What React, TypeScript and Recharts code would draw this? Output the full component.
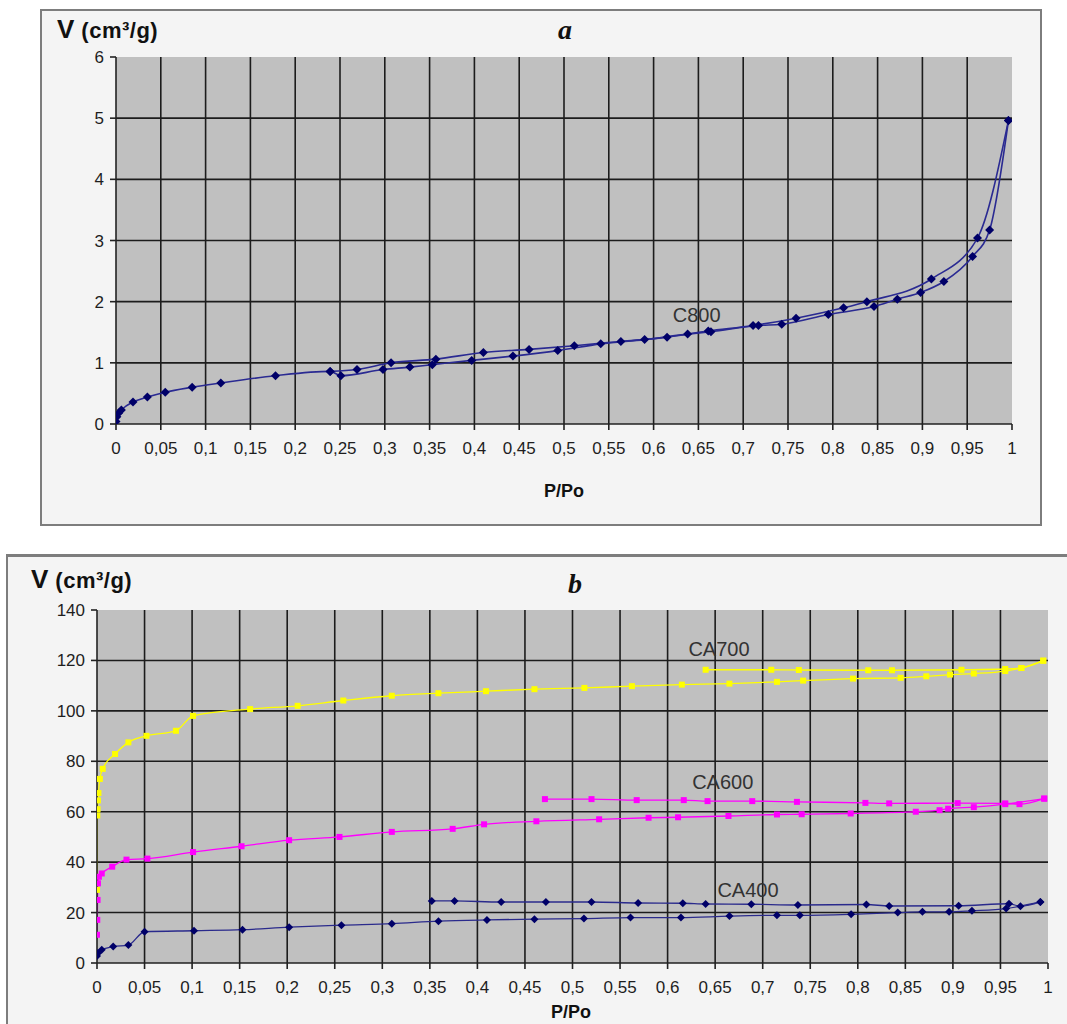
import React from 'react';
import { LineChart, Line, XAxis, YAxis, CartesianGrid, ReferenceLine, ReferenceDot } from 'recharts';

// ---------- tick labels / grid values ----------
const xTicks = [0, 0.05, 0.1, 0.15, 0.2, 0.25, 0.3, 0.35, 0.4, 0.45, 0.5, 0.55, 0.6, 0.65, 0.7, 0.75, 0.8, 0.85, 0.9, 0.95, 1];
const xGrid = [0.05, 0.1, 0.15, 0.2, 0.25, 0.3, 0.35, 0.4, 0.45, 0.5, 0.55, 0.6, 0.65, 0.7, 0.75, 0.8, 0.85, 0.9, 0.95];
const yTicksA = [0, 1, 2, 3, 4, 5, 6];
const yGridA = [1, 2, 3, 4, 5];
const yTicksB = [0, 20, 40, 60, 80, 100, 120, 140];
const yGridB = [20, 40, 60, 80, 100, 120];

// ---------- chart a : C800 ----------
const c800Ads = [
  { x: 0, y: 0.04 }, { x: 0.001, y: 0.12 }, { x: 0.003, y: 0.18 }, { x: 0.006, y: 0.23 },
  { x: 0.019, y: 0.36 }, { x: 0.035, y: 0.44 }, { x: 0.055, y: 0.52 }, { x: 0.085, y: 0.6 },
  { x: 0.117, y: 0.67 }, { x: 0.178, y: 0.79 }, { x: 0.239, y: 0.86 }, { x: 0.251, y: 0.79 },
  { x: 0.298, y: 0.89 }, { x: 0.328, y: 0.93 }, { x: 0.353, y: 0.97 }, { x: 0.397, y: 1.04 },
  { x: 0.443, y: 1.11 }, { x: 0.493, y: 1.2 }, { x: 0.541, y: 1.31 }, { x: 0.59, y: 1.38 },
  { x: 0.638, y: 1.47 }, { x: 0.664, y: 1.51 }, { x: 0.717, y: 1.61 }, { x: 0.743, y: 1.63 },
  { x: 0.795, y: 1.79 }, { x: 0.846, y: 1.92 }, { x: 0.872, y: 2.04 }, { x: 0.898, y: 2.15 },
  { x: 0.924, y: 2.33 }, { x: 0.956, y: 2.74 }, { x: 0.975, y: 3.17 }, { x: 0.996, y: 4.96 },
];
const c800Des = [
  { x: 0.239, y: 0.86 }, { x: 0.269, y: 0.89 }, { x: 0.307, y: 1.0 }, { x: 0.357, y: 1.06 },
  { x: 0.41, y: 1.17 }, { x: 0.461, y: 1.22 }, { x: 0.5115, y: 1.28 }, { x: 0.5635, y: 1.35 },
  { x: 0.615, y: 1.42 }, { x: 0.661, y: 1.52 }, { x: 0.711, y: 1.61 }, { x: 0.759, y: 1.73 },
  { x: 0.812, y: 1.9 }, { x: 0.838, y: 2.0 }, { x: 0.91, y: 2.37 }, { x: 0.9615, y: 3.04 },
  { x: 0.996, y: 4.96 },
];

// ---------- chart b : CA700 / CA600 / CA400 ----------
const ca700Ads = [
  { x: 0, y: 29 }, { x: 0.0003, y: 58.5 }, { x: 0.0006, y: 61 }, { x: 0.001, y: 64.5 },
  { x: 0.0015, y: 67.4 }, { x: 0.003, y: 73 }, { x: 0.006, y: 77 }, { x: 0.019, y: 82.9 },
  { x: 0.033, y: 87.5 }, { x: 0.052, y: 90.1 }, { x: 0.083, y: 92.1 }, { x: 0.101, y: 98 },
  { x: 0.161, y: 100.7 }, { x: 0.211, y: 102 }, { x: 0.259, y: 104.1 }, { x: 0.31, y: 106 },
  { x: 0.359, y: 107 }, { x: 0.409, y: 107.8 }, { x: 0.46, y: 108.6 }, { x: 0.5125, y: 109.1 },
  { x: 0.5625, y: 109.8 }, { x: 0.615, y: 110.4 }, { x: 0.665, y: 110.8 }, { x: 0.715, y: 111.5 },
  { x: 0.7425, y: 112 }, { x: 0.795, y: 112.8 }, { x: 0.845, y: 113.1 }, { x: 0.872, y: 113.7 },
  { x: 0.897, y: 114.4 }, { x: 0.922, y: 114.8 }, { x: 0.955, y: 115.8 }, { x: 0.972, y: 117 },
  { x: 0.995, y: 119.9 },
];
const ca700Des = [
  { x: 0.64, y: 116.3 }, { x: 0.709, y: 116.3 }, { x: 0.738, y: 116.2 }, { x: 0.811, y: 116.1 },
  { x: 0.836, y: 116.1 }, { x: 0.909, y: 116.3 }, { x: 0.955, y: 116.6 }, { x: 0.972, y: 117 },
  { x: 0.995, y: 119.9 },
];
const ca600Ads = [
  { x: 0, y: 11.2 }, { x: 0.0003, y: 17.1 }, { x: 0.0006, y: 25 }, { x: 0.001, y: 31.6 },
  { x: 0.002, y: 34.2 }, { x: 0.005, y: 35.5 }, { x: 0.016, y: 38.2 }, { x: 0.031, y: 41 },
  { x: 0.053, y: 41.4 }, { x: 0.101, y: 44 }, { x: 0.152, y: 46.3 }, { x: 0.202, y: 48.7 },
  { x: 0.255, y: 50 }, { x: 0.31, y: 52 }, { x: 0.374, y: 53.2 }, { x: 0.407, y: 55 },
  { x: 0.462, y: 56.2 }, { x: 0.528, y: 57 }, { x: 0.58, y: 57.6 }, { x: 0.611, y: 57.8 },
  { x: 0.664, y: 58.3 }, { x: 0.715, y: 58.9 }, { x: 0.741, y: 59 }, { x: 0.7925, y: 59.3 },
  { x: 0.861, y: 60 }, { x: 0.886, y: 60.6 }, { x: 0.895, y: 61.2 }, { x: 0.922, y: 61.8 },
  { x: 0.955, y: 63 }, { x: 0.996, y: 65.2 },
];
const ca600Des = [
  { x: 0.471, y: 65 }, { x: 0.52, y: 65 }, { x: 0.5675, y: 64.6 }, { x: 0.617, y: 64.6 },
  { x: 0.642, y: 64.2 }, { x: 0.689, y: 64.2 }, { x: 0.736, y: 63.9 }, { x: 0.808, y: 63.5 },
  { x: 0.833, y: 63.3 }, { x: 0.905, y: 63.4 }, { x: 0.955, y: 63.3 }, { x: 0.97, y: 63 },
  { x: 0.996, y: 65.2 },
];
const ca400Ads = [
  { x: 0, y: 2.8 }, { x: 0.001, y: 3.9 }, { x: 0.005, y: 5.3 }, { x: 0.017, y: 6.5 },
  { x: 0.033, y: 7.1 }, { x: 0.05, y: 12.4 }, { x: 0.102, y: 12.8 }, { x: 0.153, y: 13.2 },
  { x: 0.202, y: 14.2 }, { x: 0.257, y: 15 }, { x: 0.31, y: 15.6 }, { x: 0.359, y: 16.6 },
  { x: 0.41, y: 17.1 }, { x: 0.46, y: 17.4 }, { x: 0.512, y: 17.6 }, { x: 0.561, y: 18 },
  { x: 0.614, y: 18 }, { x: 0.665, y: 18.6 }, { x: 0.715, y: 18.9 }, { x: 0.739, y: 18.9 },
  { x: 0.793, y: 19.3 }, { x: 0.842, y: 20 }, { x: 0.868, y: 20.3 }, { x: 0.896, y: 20.3 },
  { x: 0.92, y: 20.7 }, { x: 0.956, y: 21.6 }, { x: 0.992, y: 24.2 },
];
const ca400Des = [
  { x: 0.352, y: 24.6 }, { x: 0.376, y: 24.6 }, { x: 0.425, y: 24.2 }, { x: 0.472, y: 24.2 },
  { x: 0.52, y: 24.2 }, { x: 0.569, y: 23.8 }, { x: 0.616, y: 23.7 }, { x: 0.64, y: 23.4 },
  { x: 0.688, y: 23.3 }, { x: 0.737, y: 23 }, { x: 0.809, y: 23.2 }, { x: 0.833, y: 22.6 },
  { x: 0.906, y: 22.7 }, { x: 0.959, y: 23.5 }, { x: 0.971, y: 22.5 }, { x: 0.992, y: 24.2 },
];

// series label anchors (data coordinates)
const labelsA = [{ name: 'C800', x: 0.648, y: 1.79 }];
const labelsB = [
  { name: 'CA700', x: 0.654, y: 124.6 },
  { name: 'CA600', x: 0.658, y: 71.7 },
  { name: 'CA400', x: 0.6845, y: 29 },
];

const FONT = 'Arial, "Liberation Sans", Helvetica, sans-serif';
const GRID = '#1c1c1c';
const fmt = (v: number) => String(v).replace('.', ',');

const diamond = (size: number, fill: string) => (props: any) => {
  const { cx, cy, index } = props;
  if (cx == null || cy == null) return <g key={`d${index}`} />;
  const s = size / 2;
  return <path key={`d${index}`} d={`M${cx},${cy - s}L${cx + s},${cy}L${cx},${cy + s}L${cx - s},${cy}Z`} fill={fill} />;
};
const square = (size: number, fill: string) => (props: any) => {
  const { cx, cy, index } = props;
  if (cx == null || cy == null) return <g key={`s${index}`} />;
  const s = size / 2;
  return <rect key={`s${index}`} x={cx - s} y={cy - s} width={size} height={size} fill={fill} />;
};

const tickStyle = { fontSize: 17, fill: '#1e1e1e', fontFamily: FONT };
const axisStroke = { stroke: '#222', strokeWidth: 1.6 };

const AxisTitleV = ({ left, top }: { left: number; top: number }) => (
  <div style={{ position: 'absolute', left, top, fontFamily: FONT, fontWeight: 'bold', color: '#111', whiteSpace: 'nowrap', lineHeight: 1 }}>
    <span style={{ fontSize: 26 }}>V</span>
    <span style={{ fontSize: 22, marginLeft: 7, letterSpacing: 0.5 }}>(cm³/g)</span>
  </div>
);

const Title = ({ text, left, top }: { text: string; left: number; top: number }) => (
  <div style={{ position: 'absolute', left, top, width: 40, textAlign: 'center', fontFamily: '"Liberation Serif", "Times New Roman", serif', fontStyle: 'italic', fontWeight: 'bold', fontSize: 28, lineHeight: 1, color: '#111' }}>{text}</div>
);

const XTitle = ({ left, top }: { left: number; top: number }) => (
  <div style={{ position: 'absolute', left, top, width: 80, textAlign: 'center', fontFamily: FONT, fontWeight: 'bold', fontSize: 18, lineHeight: 1, color: '#111' }}>P/Po</div>
);

export default function App() {
  return (
    <div style={{ position: 'absolute', left: 0, top: 0, width: 1067, height: 1024, background: '#fff', overflow: 'hidden' }}>
      {/* frame a */}
      <div style={{ position: 'absolute', left: 40, top: 9, width: 1002, height: 517, border: '2px solid #7d7d7d', background: '#f4f4f4', boxSizing: 'border-box' }} />
      {/* frame b */}
      <div style={{ position: 'absolute', left: 6, top: 554, width: 1100, height: 500, borderTop: '3px solid #7d7d7d', borderLeft: '2px solid #7d7d7d', background: '#f4f4f4', boxSizing: 'border-box' }} />

      {/* chart a */}
      <div style={{ position: 'absolute', left: 0, top: 0 }}>
        <LineChart width={1067} height={540} margin={{ top: 57, right: 55, bottom: 86, left: 56 }}>
          <CartesianGrid fill="#c0c0c0" horizontal={false} vertical={false} stroke="none" />
          {xGrid.map((v) => <ReferenceLine key={`xa${v}`} x={v} stroke={GRID} strokeWidth={1.6} />)}
          {yGridA.map((v) => <ReferenceLine key={`ya${v}`} y={v} stroke={GRID} strokeWidth={1.6} />)}
          <XAxis type="number" dataKey="x" domain={[0, 1]} ticks={xTicks} interval={0} tickFormatter={fmt}
            height={30} tickSize={6} tickMargin={12} tick={tickStyle} axisLine={axisStroke} tickLine={axisStroke} allowDataOverflow />
          <YAxis type="number" dataKey="y" domain={[0, 6]} ticks={yTicksA} interval={0}
            width={60} tickSize={6} tickMargin={6} tick={tickStyle} axisLine={axisStroke} tickLine={axisStroke} allowDataOverflow />
          <Line data={c800Ads} dataKey="y" type="monotone" stroke="#2a2a92" strokeWidth={1.6} dot={diamond(9, '#000068')} activeDot={false} isAnimationActive={false} />
          <Line data={c800Des} dataKey="y" type="monotone" stroke="#2a2a92" strokeWidth={1.6} dot={diamond(9, '#000068')} activeDot={false} isAnimationActive={false} />
          {labelsA.map((l) => (
            <ReferenceDot key={l.name} x={l.x} y={l.y} r={0} fill="none" stroke="none"
              label={{ value: l.name, position: 'center', fontSize: 20, fill: '#333', fontFamily: FONT }} />
          ))}
        </LineChart>
      </div>

      {/* chart b */}
      <div style={{ position: 'absolute', left: 0, top: 540 }}>
        <LineChart width={1067} height={484} margin={{ top: 70, right: 19, bottom: 31, left: 37 }}>
          <CartesianGrid fill="#c0c0c0" horizontal={false} vertical={false} stroke="none" />
          {xGrid.map((v) => <ReferenceLine key={`xb${v}`} x={v} stroke={GRID} strokeWidth={1.6} />)}
          {yGridB.map((v) => <ReferenceLine key={`yb${v}`} y={v} stroke={GRID} strokeWidth={1.6} />)}
          <XAxis type="number" dataKey="x" domain={[0, 1]} ticks={xTicks} interval={0} tickFormatter={fmt}
            height={30} tickSize={6} tickMargin={12} tick={tickStyle} axisLine={axisStroke} tickLine={axisStroke} allowDataOverflow />
          <YAxis type="number" dataKey="y" domain={[0, 140]} ticks={yTicksB} interval={0}
            width={60} tickSize={6} tickMargin={6} tick={tickStyle} axisLine={axisStroke} tickLine={axisStroke} allowDataOverflow />
          <Line data={ca400Ads} dataKey="y" type="monotone" stroke="#2a2a8c" strokeWidth={1.3} dot={diamond(8, '#000068')} activeDot={false} isAnimationActive={false} />
          <Line data={ca400Des} dataKey="y" type="monotone" stroke="#2a2a8c" strokeWidth={1.3} dot={diamond(8, '#000068')} activeDot={false} isAnimationActive={false} />
          <Line data={ca600Ads} dataKey="y" type="monotone" stroke="#ff00ff" strokeWidth={1.3} dot={square(6, '#ff00ff')} activeDot={false} isAnimationActive={false} />
          <Line data={ca600Des} dataKey="y" type="monotone" stroke="#ff00ff" strokeWidth={1.3} dot={square(6, '#ff00ff')} activeDot={false} isAnimationActive={false} />
          <Line data={ca700Ads} dataKey="y" type="monotone" stroke="#ffff00" strokeWidth={1.3} dot={square(6, '#ffff00')} activeDot={false} isAnimationActive={false} />
          <Line data={ca700Des} dataKey="y" type="monotone" stroke="#ffff00" strokeWidth={1.3} dot={square(6, '#ffff00')} activeDot={false} isAnimationActive={false} />
          {labelsB.map((l) => (
            <ReferenceDot key={l.name} x={l.x} y={l.y} r={0} fill="none" stroke="none"
              label={{ value: l.name, position: 'center', fontSize: 20, fill: '#333', fontFamily: FONT }} />
          ))}
        </LineChart>
      </div>

      <AxisTitleV left={57} top={16} />
      <AxisTitleV left={31} top={566} />
      <Title text="a" left={545} top={16} />
      <Title text="b" left={555} top={570} />
      <XTitle left={524} top={482} />
      <XTitle left={531} top={1003} />
    </div>
  );
}
